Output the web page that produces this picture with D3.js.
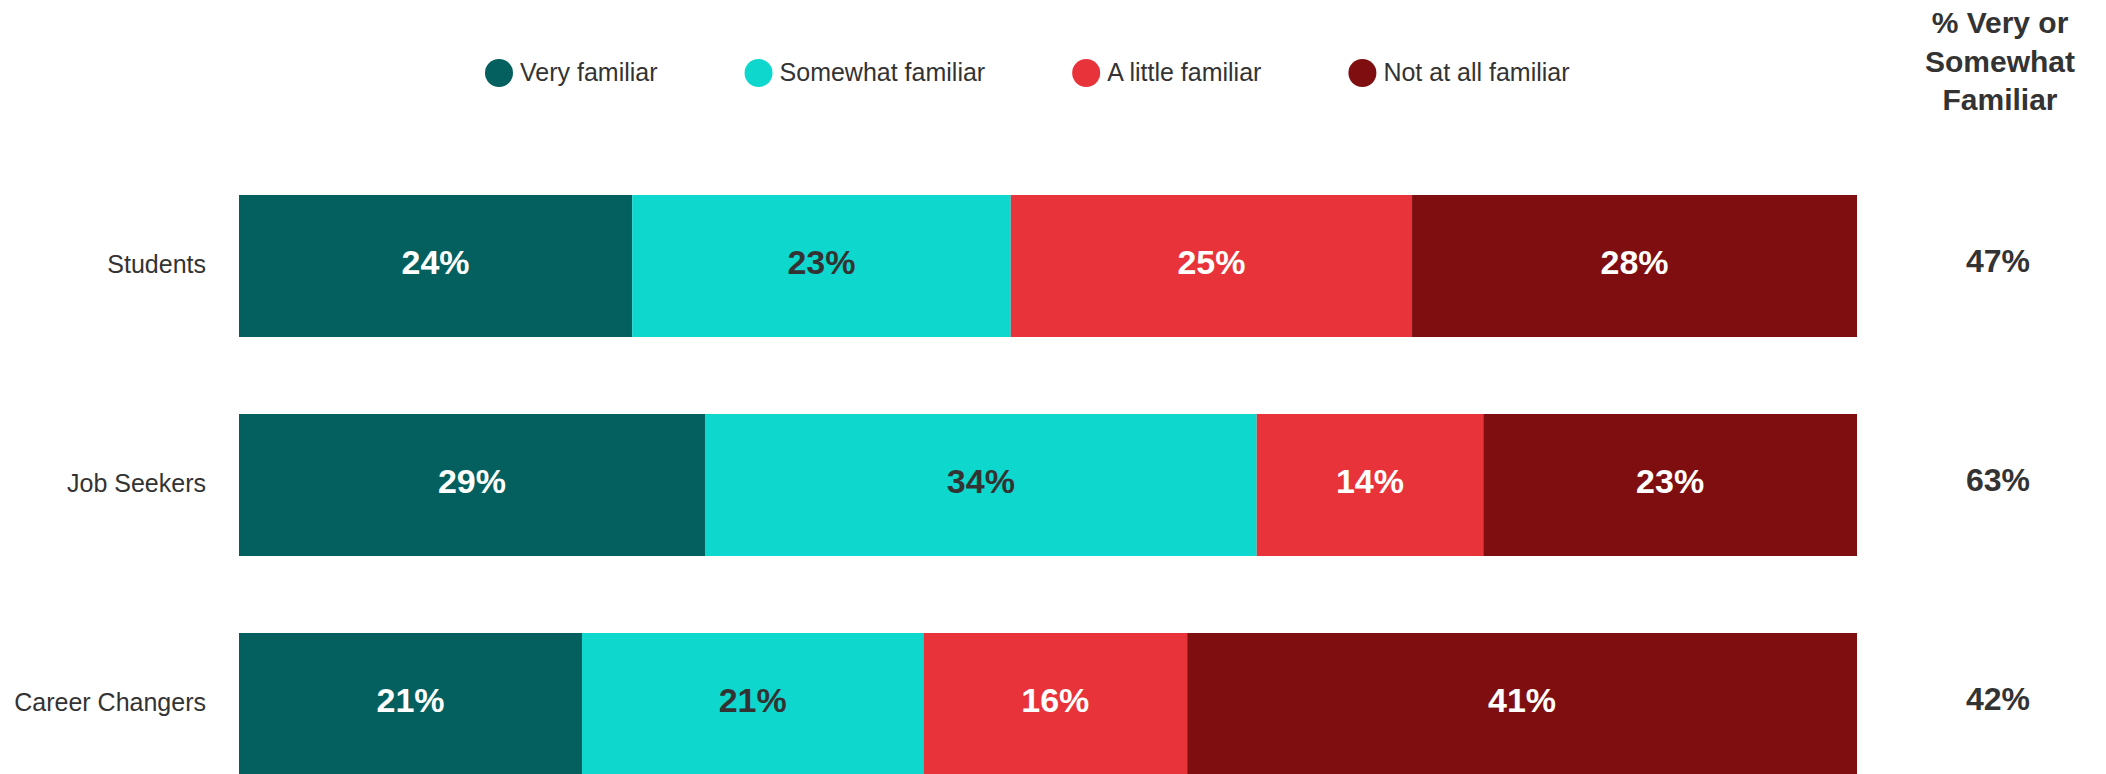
<!DOCTYPE html>
<html>
<head>
<meta charset="utf-8">
<script src="https://cdn.jsdelivr.net/npm/d3@7"></script>
<style>
  html, body { margin: 0; padding: 0; background: #fff; }
  svg { display: block; font-family: "Liberation Sans", Arial, Helvetica, sans-serif; }
</style>
</head>
<body>
<svg id="chart" width="2106" height="774"></svg>
<script>
// ---- data ----
const categories = ["Students", "Job Seekers", "Career Changers"];
const seriesNames = ["Very familiar", "Somewhat familiar", "A little familiar", "Not at all familiar"];
const veryFamiliar     = [24.3, 28.8, 21.2];
const somewhatFamiliar = [23.4, 34.1, 21.1];
const aLittleFamiliar  = [24.8, 14.0, 16.3];
const notAtAllFamiliar = [27.5, 23.1, 41.4];
const totalVeryOrSomewhat = [47, 63, 42];
const headerLines = ["% Very or", "Somewhat", "Familiar"];
const colors = ["#03605f", "#0ed8ce", "#e8333a", "#7e0e10"];
const labelColors = ["#ffffff", "#333333", "#ffffff", "#ffffff"];

// ---- build table ----
const seriesValues = [veryFamiliar, somewhatFamiliar, aLittleFamiliar, notAtAllFamiliar];
const rows = categories.map((c, i) => {
  const r = { category: c };
  seriesNames.forEach((s, j) => r[s] = seriesValues[j][i]);
  return r;
});
const stacked = d3.stack().keys(seriesNames)(rows);

const svg = d3.select("#chart");
const x = d3.scaleLinear().domain([0, 100]).range([239, 1857]);
const y = d3.scaleBand().domain(categories).range([195, 775])
  .paddingInner(77 / 219).paddingOuter(0).align(0);
const color = d3.scaleOrdinal().domain(seriesNames).range(colors);
const fmt = v => d3.format(".0f")(v) + "%";

// bars
const layer = svg.append("g").selectAll("g").data(stacked).join("g")
  .attr("fill", d => color(d.key));
layer.selectAll("rect").data(d => d).join("rect")
  .attr("x", d => x(d[0]))
  .attr("y", d => y(d.data.category))
  .attr("width", d => x(d[1]) - x(d[0]))
  .attr("height", y.bandwidth());

// bar labels
const lab = svg.append("g").selectAll("g").data(stacked).join("g")
  .attr("fill", (d, i) => labelColors[i]);
lab.selectAll("text").data(d => d.map(p => ({ p, key: d.key }))).join("text")
  .attr("x", d => (x(d.p[0]) + x(d.p[1])) / 2)
  .attr("y", d => y(d.p.data.category) + y.bandwidth() / 2 + 8)
  .attr("text-anchor", "middle")
  .attr("font-size", 34)
  .attr("font-weight", "bold")
  .text(d => fmt(d.p.data[d.key]));

// category axis labels
const yAxis = d3.axisLeft(y).tickSize(0).tickPadding(0);
const ga = svg.append("g").attr("transform", "translate(206,-2)").call(yAxis);
ga.select(".domain").remove();
ga.selectAll("text")
  .attr("font-size", 25)
  .attr("fill", "#333")
  .attr("font-family", "'Liberation Sans', Arial, sans-serif")
  .attr("dy", null)
  .attr("dominant-baseline", "central")
  .attr("y", 0);

// right totals
svg.append("g").selectAll("text").data(categories).join("text")
  .attr("x", 1998)
  .attr("y", (c) => y(c) + y.bandwidth() / 2 + 6)
  .attr("text-anchor", "middle")
  .attr("font-size", 32)
  .attr("font-weight", "bold")
  .attr("fill", "#333")
  .text((c, i) => totalVeryOrSomewhat[i] + "%");

// header
svg.append("g").selectAll("text").data(headerLines).join("text")
  .attr("x", 2000)
  .attr("y", (d, i) => 33 + i * 38.5)
  .attr("text-anchor", "middle")
  .attr("font-size", 30)
  .attr("font-weight", "bold")
  .attr("fill", "#333")
  .text(d => d);

// legend
const legend = svg.append("g");
let cx = 499;
seriesNames.forEach((s, i) => {
  legend.append("circle").attr("cx", cx).attr("cy", 73).attr("r", 14).attr("fill", color(s));
  const t = legend.append("text").attr("x", cx + 21).attr("y", 81)
    .attr("font-size", 25).attr("fill", "#333").text(s);
  cx = cx + 21 + t.node().getComputedTextLength() + 101;
});
</script>
</body>
</html>
